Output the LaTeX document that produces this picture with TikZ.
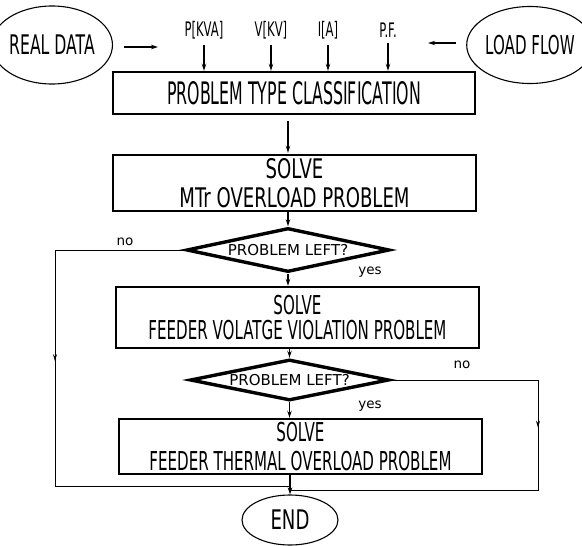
\documentclass[tikz,border=0pt]{standalone}
\usepackage{fontspec}
\usetikzlibrary{shapes.geometric,arrows.meta,calc,decorations.markings}
% condensed plotter-style lettering
\newfontfamily\plotfont[FakeStretch=0.58]{DejaVu Sans}
\newfontfamily\plotnarrow[FakeStretch=0.51]{DejaVu Sans}
\newfontfamily\plotwide[FakeStretch=0.67]{DejaVu Sans}
\newfontfamily\labelfont{DejaVu Sans}
\begin{document}
\begin{tikzpicture}[x=1pt,y=-1pt,
  box/.style={draw, rectangle, line width=2.4pt, inner sep=0pt, align=center},
  oval/.style={draw, ellipse, line width=1.1pt, inner sep=0pt},
  dia/.style={draw, diamond, line width=3.4pt, inner sep=0pt, aspect=4.7,
    font=\labelfont\fontsize{15}{17}\selectfont},
  arr/.style={line width=1.4pt, -{Stealth[length=7pt,width=4.5pt]}},
  loopline/.style={line width=0.9pt, postaction={decorate}},
  lbl/.style={font=\labelfont\fontsize{13.5}{15}\selectfont, inner sep=0pt},
  inp/.style={font=\plotfont\fontsize{20}{22}\selectfont, inner sep=0pt}]
\useasboundingbox (0,0) rectangle (582,546);

% data sources
\node[oval, minimum width=100pt, minimum height=78pt,
  font=\plotfont\fontsize{27}{30}\selectfont] (real) at (52,45) {REAL DATA};
\node[oval, minimum width=100pt, minimum height=77pt,
  font=\plotfont\fontsize{26}{30}\selectfont] (lf) at (530,45) {LOAD FLOW};

% process boxes
\node[box, minimum width=362pt, minimum height=42pt,
  font=\plotnarrow\fontsize{31}{33}\selectfont] (b1) at (294,93)
  {PROBLEM TYPE CLASSIFICATION};
\node[box, minimum width=363pt, minimum height=56pt,
  font=\plotwide\fontsize{27}{29}\selectfont] (b2) at (294.5,183)
  {SOLVE\\MTr OVERLOAD PROBLEM};
\node[dia, minimum width=203pt, minimum height=44pt] (d1) at (288,250) {PROBLEM LEFT?};
\node[box, minimum width=363pt, minimum height=61pt,
  font=\plotfont\fontsize{26}{25}\selectfont] (b3) at (297.5,317.5)
  {SOLVE\\FEEDER VOLATGE VIOLATION PROBLEM};
\node[dia, minimum width=199pt, minimum height=41pt] (d2) at (289.5,380) {PROBLEM LEFT?};
\node[box, minimum width=363pt, minimum height=55pt,
  font=\plotfont\fontsize{26}{29}\selectfont] (b4) at (300.5,446.5)
  {SOLVE\\FEEDER THERMAL OVERLOAD PROBLEM};
\node[oval, minimum width=96pt, minimum height=50pt,
  font=\plotwide\fontsize{27}{30}\selectfont] (endn) at (290,520) {END};

% measured inputs
\node[inp] (p) at (204,30) {P[KVA]};
\node[inp] (v) at (271,30) {V[KV]};
\node[inp] (i) at (328,30) {I[A]};
\node[inp] (pf) at (388,30) {P.F.};
\foreach \n in {p,v,i,pf}
  \draw[arr, line width=1.8pt] ($(\n.south)+(0,6)$) -- (\n.south |- b1.north);

% side inputs
\draw[arr] ($(real.east)+(11,2)$) -- ($(real.east)+(45,2)$);
\draw[arr] ($(lf.west)+(-10,-2)$) -- ($(lf.west)+(-38,-2)$);

% main flow
\draw[arr] ($(b1.south -| d1.north)+(0,6)$) -- ($(b2.north -| d1.north)+(0,-1)$);
\draw[arr] (b2.south -| d1.north) -- (d1.north);
\draw[arr] (d1.south) -- (b3.north -| d1.south);
\draw[arr] (b3.south -| d2.north) -- (d2.north);
\draw[arr] (d2.south) -- (b4.north -| d2.south);
\draw[arr] (b4.south -| endn.north) -- (endn.north);

% bypass loops
\coordinate (lb) at (55,486);
\coordinate (rb) at (538,490);
\draw[loopline, decoration={markings, mark=at position 241pt with
  {\arrow{Stealth[length=7pt,width=4pt]}}}]
  (d1.west) -| (lb) -- (lb -| endn.north);
\draw[loopline, decoration={markings, mark=at position 195pt with
  {\arrow{Stealth[length=7pt,width=4pt]}}}]
  (d2.east) -| (rb) -- (rb -| endn.north);

% branch labels
\node[lbl] (no1) at (125,242) {no};
\node[lbl] (yes1) at (370,272) {yes};
\node[lbl] (no2) at (462,365) {no};
\node[lbl] (yes2) at (370,406) {yes};
\end{tikzpicture}
\end{document}
